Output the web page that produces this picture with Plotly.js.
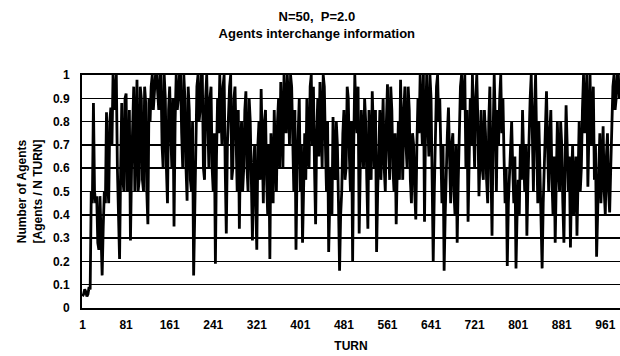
<!DOCTYPE html>
<html>
<head>
<meta charset="utf-8">
<script src="https://cdn.plot.ly/plotly-3.0.1.min.js"></script>
<style>html,body{margin:0;padding:0;background:#fff;}#chart{width:620px;height:356px;}</style>
</head>
<body>
<div id="chart"></div>
<script>
// Turn sampling of the series (every 2nd turn, starting at turn 1)
const firstTurn = 1;
const turnStep = 2;

// Fraction of agents exchanging information
const agentsFraction = [
  0.05,0.06, 0.08,0.07, 0.05,0.06, 0.09,0.08, 0.50,0.45, 0.88,0.50, 0.45,0.48, 0.28,0.25, 0.48,0.30, 0.14,0.35,
  0.50,0.45, 0.84,0.55, 0.45,0.80, 0.86,0.70, 1.00,0.85, 0.95,1.00, 0.60,0.40, 0.21,0.60, 0.88,0.55, 0.50,0.90,
  0.92,0.50, 0.55,0.85, 0.29,0.60, 0.85,0.95, 0.50,0.80, 0.98,0.50, 0.55,0.95, 0.90,0.55, 0.50,0.95, 0.88,0.50,
  0.36,0.90, 0.80,0.95, 1.00,0.85, 0.93,1.00, 1.00,0.90, 0.85,1.00, 1.00,0.70, 0.60,1.00, 0.90,0.60, 0.45,0.85,
  0.95,0.75, 0.60,0.90, 0.35,0.80, 1.00,0.85, 0.90,1.00, 1.00,0.75, 0.60,1.00, 0.90,0.60, 0.46,0.95, 0.85,0.55,
  0.50,0.80, 0.14,0.40, 0.70,0.95, 1.00,0.80, 0.85,1.00, 1.00,0.60, 0.55,0.90, 1.00,0.75, 0.60,0.90, 0.95,0.60,
  0.50,0.75, 0.19,0.65, 0.90,0.75, 1.00,0.85, 0.70,0.95, 1.00,0.60, 0.32,0.70, 0.85,0.95, 1.00,0.55, 0.60,0.90,
  0.95,0.70, 0.50,0.85, 0.34,0.70, 0.80,0.50, 0.60,0.85, 0.93,0.60, 0.50,0.90, 0.80,0.55, 0.29,0.60, 0.70,0.45,
  0.25,0.70, 0.80,0.55, 0.94,0.70, 0.45,0.80, 0.85,0.55, 0.40,0.70, 0.21,0.75, 0.60,0.45, 0.85,0.70, 0.50,0.80,
  0.90,0.60, 0.97,0.80, 0.60,1.00, 0.90,0.75, 1.00,0.90, 0.70,1.00, 0.95,0.65, 0.50,0.85, 0.25,0.60, 0.80,0.90,
  0.50,0.70, 0.28,0.55, 0.75,0.55, 0.90,0.65, 0.60,0.95, 1.00,0.70, 0.95,0.60, 0.36,0.75, 0.90,0.65, 0.97,0.80,
  0.60,1.00, 0.95,0.70, 0.50,0.80, 0.24,0.45, 0.60,0.40, 0.82,0.60, 0.55,0.80, 0.70,0.45, 0.16,0.40, 0.50,0.75,
  0.85,0.55, 0.60,0.95, 0.90,0.65, 0.50,0.80, 0.20,0.70, 1.00,0.85, 0.75,0.95, 0.32,0.60, 0.85,0.70, 0.60,0.90,
  0.80,0.55, 0.34,0.85, 0.70,0.55, 0.93,0.80, 0.60,0.85, 0.24,0.50, 0.70,0.85, 0.55,0.75, 0.90,0.60, 0.50,0.80,
  0.96,0.70, 0.55,0.95, 0.85,0.60, 0.50,0.75, 0.36,0.60, 0.80,0.55, 0.98,0.75, 0.55,0.85, 0.95,0.70, 0.60,0.95,
  0.85,0.55, 0.45,0.75, 0.70,0.50, 0.38,0.70, 0.90,0.75, 1.00,0.85, 0.70,1.00, 0.37,0.80, 1.00,0.80, 0.65,1.00,
  0.90,0.55, 0.20,0.50, 0.80,0.95, 1.00,0.80, 0.90,0.60, 0.45,0.70, 0.16,0.40, 0.60,0.75, 0.86,0.60, 0.45,0.70,
  0.75,0.50, 0.40,0.70, 0.28,0.55, 0.80,0.95, 1.00,0.85, 0.90,1.00, 0.60,0.85, 0.37,0.75, 0.90,0.70, 1.00,0.80,
  0.60,0.90, 1.00,0.80, 0.48,0.65, 0.85,0.60, 0.55,0.85, 0.75,0.55, 0.45,0.80, 0.95,0.60, 0.31,0.75, 1.00,0.80,
  0.50,0.85, 0.70,0.90, 1.00,0.75, 0.90,0.65, 0.45,0.60, 0.18,0.45, 0.60,0.70, 0.80,0.60, 0.45,0.65, 0.17,0.40,
  0.55,0.40, 0.70,0.55, 0.85,0.65, 0.50,0.70, 0.31,0.55, 0.75,0.90, 1.00,0.80, 0.50,0.85, 1.00,0.70, 0.45,0.80,
  0.55,0.40, 0.17,0.45, 0.60,0.75, 0.93,0.70, 0.50,0.75, 0.85,0.55, 0.40,0.65, 0.28,0.55, 0.80,0.60, 0.50,0.80,
  0.70,0.45, 0.28,0.60, 0.87,0.70, 0.50,0.65, 0.26,0.55, 0.70,0.40, 0.50,0.65, 0.31,0.55, 0.80,0.50, 0.60,0.85,
  1.00,0.75, 0.90,1.00, 0.52,0.80, 1.00,0.70, 0.85,0.95, 0.55,0.70, 0.22,0.50, 0.60,0.75, 0.45,0.60, 0.78,0.50,
  0.40,0.65, 0.75,0.50, 0.41,0.60, 0.80,0.95, 1.00,0.85, 0.90,1.00, 1.00,0.90, 0.95
];

const xTickValues = [1, 81, 161, 241, 321, 401, 481, 561, 641, 721, 801, 881, 961];
const xTickLabels = ['1', '81', '161', '241', '321', '401', '481', '561', '641', '721', '801', '881', '961'];
const yTickValues = [0, 0.1, 0.2, 0.3, 0.4, 0.5, 0.6, 0.7, 0.8, 0.9, 1];
const yTickLabels = ['0', '0.1', '0.2', '0.3', '0.4', '0.5', '0.6', '0.7', '0.8', '0.9', '1'];

const fontFamily = '"Liberation Sans", Arial, sans-serif';

const trace = {
  type: 'scatter',
  mode: 'lines',
  x0: firstTurn,
  dx: turnStep,
  y: agentsFraction,
  line: {color: '#000', width: 2.8},
  hoverinfo: 'skip'
};

const layout = {
  width: 620,
  height: 356,
  margin: {l: 82, r: 0, t: 75, b: 48},
  paper_bgcolor: '#fff',
  plot_bgcolor: '#fff',
  showlegend: false,
  font: {family: fontFamily, color: '#000', size: 12, weight: 'bold'},
  title: {
    text: 'N=50,  P=2.0<br>Agents interchange information',
    x: 0.511, xref: 'container', xanchor: 'center',
    y: 0.94, yref: 'container', yanchor: 'top',
    font: {family: fontFamily, size: 13, color: '#000', weight: 'bold'}
  },
  xaxis: {
    range: [0, 988],
    tickvals: xTickValues,
    ticktext: xTickLabels,
    showgrid: false,
    zeroline: false,
    showline: true,
    linecolor: '#000',
    linewidth: 2,
    mirror: true,
    ticks: '',
    ticklabelstandoff: 5,
    tickfont: {family: fontFamily, size: 12, color: '#000', weight: 'bold'},
    title: {text: 'TURN', standoff: 10, font: {family: fontFamily, size: 12, color: '#000', weight: 'bold'}}
  },
  yaxis: {
    range: [0, 1],
    tickvals: yTickValues,
    ticktext: yTickLabels,
    showgrid: true,
    gridcolor: '#000',
    gridwidth: 1.5,
    zeroline: false,
    showline: true,
    linecolor: '#000',
    linewidth: 2,
    ticks: '',
    ticklabelstandoff: 8,
    tickfont: {family: fontFamily, size: 12, color: '#000', weight: 'bold'},
    title: {text: 'Number of Agents<br>[Agents / N TURN]', standoff: 8, font: {family: fontFamily, size: 12, color: '#000', weight: 'bold'}}
  }
};

Plotly.newPlot('chart', [trace], layout, {displayModeBar: false, staticPlot: true});
</script>
</body>
</html>
